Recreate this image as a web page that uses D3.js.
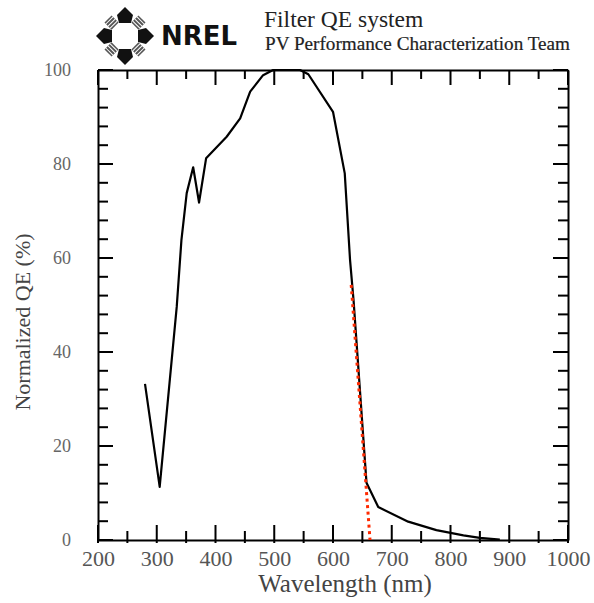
<!DOCTYPE html>
<html>
<head>
<meta charset="utf-8">
<script src="https://cdn.jsdelivr.net/npm/d3@7"></script>
<style>
  body { margin: 0; background: #fff; }
  svg { display: block; }
</style>
</head>
<body>
<svg id="chart"></svg>
<script>
// curve
const wavelength = [280, 305, 334, 342, 351, 362, 372, 384, 419, 442, 459, 481, 498, 544, 558, 600, 620, 629, 635, 657, 677, 728, 776, 822, 850, 884];
const normQE     = [33.2, 11.3, 49.6, 63.8, 73.8, 79.3, 71.8, 81.2, 85.8, 89.7, 95.4, 98.9, 100, 100, 99.1, 91.1, 78.0, 59.6, 51.0, 12.2, 7.0, 3.9, 2.1, 1.0, 0.45, 0.1];

// red dotted extrapolation of the cut-off edge
const edgeWl = [631, 663];
const edgeQE = [54.3, 0];

const xMajor = [200, 300, 400, 500, 600, 700, 800, 900, 1000];
const xMinor = [250, 350, 450, 550, 650, 750, 850, 950];
const yMajor = [0, 20, 40, 60, 80, 100];
const yMinor = [4, 8, 12, 16, 24, 28, 32, 36, 44, 48, 52, 56, 64, 68, 72, 76, 84, 88, 92, 96];

const width = 594, height = 603;
const svg = d3.select("#chart").attr("width", width).attr("height", height);

const x = d3.scaleLinear().domain([200, 1000]).range([98, 568]);
const y = d3.scaleLinear().domain([0, 100]).range([540, 70]);

const serif = "'Liberation Serif', 'Times New Roman', serif";

// ---- header / logo ----
const logo = svg.append("g").attr("transform", "translate(125,36)");
[0, 90, 180, 270].forEach(a => {
    logo.append("path")
        .attr("transform", `rotate(${a})`)
        .attr("d", "M0,-29 L8,-21 L6,-13 L-6,-13 L-8,-21 Z")
        .attr("fill", "#111");
});
[45, 135, 225, 315].forEach(a => {
    const sq = logo.append("g").attr("transform", `rotate(${a})`);
    sq.append("rect").attr("x", -5).attr("y", -24).attr("width", 10).attr("height", 10)
        .attr("fill", "#555");
    [-22, -19, -16].forEach(yy => {
        sq.append("line").attr("x1", -5).attr("x2", 5).attr("y1", yy).attr("y2", yy)
            .attr("stroke", "#fff").attr("stroke-width", 1);
    });
});
svg.append("text")
    .attr("x", 161).attr("y", 45)
    .attr("textLength", 76).attr("lengthAdjust", "spacingAndGlyphs")
    .style("font-family", "'DejaVu Sans', sans-serif")
    .style("font-weight", "bold")
    .style("font-size", "27px")
    .attr("fill", "#111")
    .text("NREL");

svg.append("text")
    .attr("x", 264).attr("y", 27)
    .style("font-family", serif).style("font-size", "23.5px")
    .attr("fill", "#222")
    .text("Filter QE system");
svg.append("text")
    .attr("x", 265).attr("y", 50)
    .attr("textLength", 305).attr("lengthAdjust", "spacingAndGlyphs")
    .style("font-family", serif).style("font-size", "19px")
    .attr("fill", "#222").attr("stroke", "#222").attr("stroke-width", 0.2)
    .text("PV Performance Characterization Team");

// ---- axes (labels + frame) ----
const axBottom = svg.append("g").attr("transform", "translate(0,540)")
    .call(d3.axisBottom(x).tickValues(xMajor).tickFormat(d3.format("d"))
        .tickSize(0).tickPadding(10));
axBottom.selectAll(".tick text")
    .style("font-family", serif).style("font-size", "22px").attr("fill", "#555");

const axLeft = svg.append("g").attr("transform", "translate(98,0)")
    .call(d3.axisLeft(y).tickValues(yMajor).tickFormat(d3.format("d"))
        .tickSize(0).tickPadding(27));
axLeft.selectAll(".tick text")
    .style("font-family", serif).style("font-size", "18px").attr("fill", "#666");

svg.append("g").attr("transform", "translate(0,70)")
    .call(d3.axisTop(x).tickValues([]).tickSize(0));
svg.append("g").attr("transform", "translate(568,0)")
    .call(d3.axisRight(y).tickValues([]).tickSize(0));
svg.selectAll(".domain").attr("stroke", "#000").attr("stroke-width", 2);

// ---- inward tick marks on all four sides, drawn as thin filled rects ----
const ticks = svg.append("g").attr("fill", "#000");
const xTicks = xMajor.map(v => ({ v, len: 15 })).concat(xMinor.map(v => ({ v, len: 9 })));
const yTicks = yMajor.map(v => ({ v, len: 15 })).concat(yMinor.map(v => ({ v, len: 10 })));

ticks.selectAll(".xb").data(xTicks).join("rect").attr("class", "xb")
    .attr("x", d => x(d.v) - 1).attr("width", 2)
    .attr("y", d => y(0) - d.len).attr("height", d => d.len + 3);
ticks.selectAll(".xt").data(xTicks).join("rect").attr("class", "xt")
    .attr("x", d => x(d.v) - 1).attr("width", 2)
    .attr("y", y(100)).attr("height", d => d.len);
ticks.selectAll(".yl").data(yTicks).join("rect").attr("class", "yl")
    .attr("y", d => y(d.v) - 1).attr("height", 2)
    .attr("x", x(200)).attr("width", d => d.len);
ticks.selectAll(".yr").data(yTicks).join("rect").attr("class", "yr")
    .attr("y", d => y(d.v) - 1).attr("height", 2)
    .attr("x", d => x(1000) - d.len).attr("width", d => d.len);

// ---- axis titles ----
svg.append("text")
    .attr("x", 345).attr("y", 592)
    .attr("text-anchor", "middle")
    .style("font-family", serif).style("font-size", "25px")
    .attr("fill", "#444")
    .text("Wavelength (nm)");
svg.append("text")
    .attr("transform", "translate(30,322) rotate(-90)")
    .attr("text-anchor", "middle")
    .style("font-family", serif).style("font-size", "22px")
    .attr("fill", "#444")
    .text("Normalized QE (%)");

// ---- data ----
const qeLine = d3.line().x(d => x(d[0])).y(d => y(d[1]));

svg.append("path")
    .datum(wavelength.map((w, i) => [w, normQE[i]]))
    .attr("d", qeLine)
    .attr("fill", "none")
    .attr("stroke", "#000")
    .attr("stroke-width", 2.2)
    .attr("stroke-linejoin", "round");

svg.append("path")
    .datum(edgeWl.map((w, i) => [w, edgeQE[i]]))
    .attr("d", qeLine)
    .attr("fill", "none")
    .attr("stroke", "#ff2a00")
    .attr("stroke-width", 3)
    .attr("stroke-dasharray", "3,3.5");
</script>
</body>
</html>
